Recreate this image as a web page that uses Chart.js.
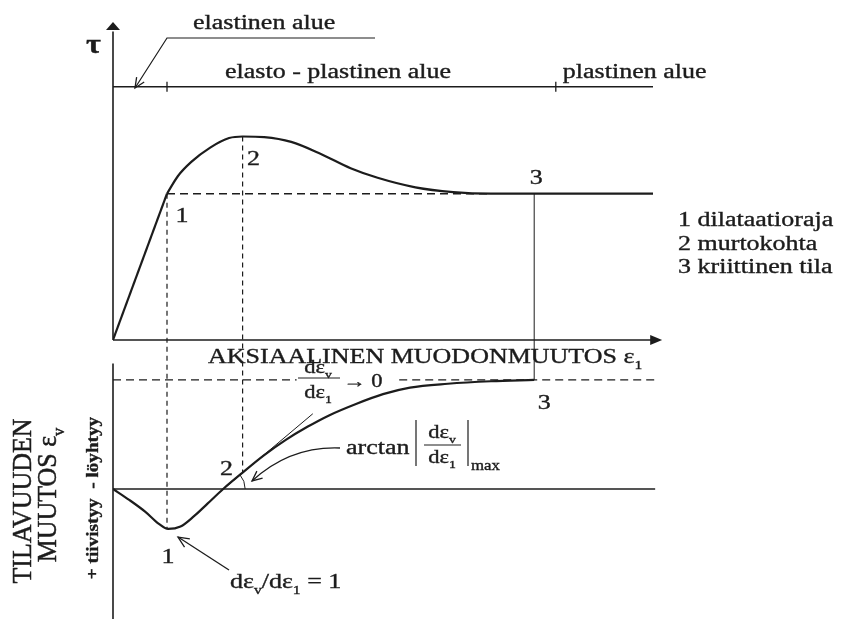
<!DOCTYPE html>
<html>
<head>
<meta charset="utf-8">
<script src="https://cdn.jsdelivr.net/npm/chart.js@4.4.1/dist/chart.umd.min.js"></script>
<style>
  html, body { margin: 0; padding: 0; background: #fff; }
  #wrap { width: 843px; height: 619px; }
</style>
</head>
<body>
<div id="wrap"><canvas id="diagram" width="843" height="619"></canvas></div>
<script>
// tau - eps1 curve: straight elastic part, then the smooth hump
const elasticStrain = [0, 10];
const elasticStress = [0, 46];
const plasticStrain = [10, 12, 14.5, 18, 21.5, 24, 28, 33, 38.5, 44, 49, 56, 63, 70, 78, 100];
const plasticStress = [46, 51.5, 56, 60.5, 63.5, 64, 63.8, 62.3, 58.5, 54, 51, 48, 46.5, 46, 46, 46];

// volume change eps_v against eps1
const volStrainX = [0, 3, 6, 8.5, 10.2, 12.5, 15, 17.5, 20.4, 24, 28, 32, 36, 40, 45, 50, 55, 62, 70, 78];
const volStrainY = [0, -1.0, -2.1, -3.2, -3.67, -3.45, -2.5, -1.35, 0, 1.5, 3.1, 4.5, 5.7, 6.75, 7.8, 8.7, 9.3, 9.65, 9.88, 10];

// steepest tangent of the volume curve
const tangentX = [19.5, 37];
const tangentY = [-0.4, 6.9];

// points 1, 2, 3
const pointStrain = [10, 24, 78];
const pointStress = [46, 64, 46];
const pointVol = [-3.67, 1.5, 10];

// zones on the strip above the plot
const bandTau = 79.6;
const zoneEdges = [10, 82];
const zoneNames = ["elastinen alue", "elasto - plastinen alue", "plastinen alue"];
const legendItems = ["1 dilataatioraja", "2 murtokohta", "3 kriittinen tila"];

const INK = "#1c1c1c";
const SERIF = '"Liberation Serif", "Times New Roman", serif';

const toPts = (xs, ys) => xs.map((v, i) => ({ x: v, y: ys[i] }));

function stroke(ctx, pts, w, dash) {
  ctx.save();
  ctx.strokeStyle = INK;
  ctx.lineWidth = w;
  ctx.setLineDash(dash || []);
  ctx.beginPath();
  ctx.moveTo(pts[0][0], pts[0][1]);
  for (let i = 1; i < pts.length; i++) ctx.lineTo(pts[i][0], pts[i][1]);
  ctx.stroke();
  ctx.restore();
}

function openArrow(ctx, fx, fy, tx, ty, len) {
  const a = Math.atan2(ty - fy, tx - fx);
  stroke(ctx, [
    [tx - len * Math.cos(a - 0.42), ty - len * Math.sin(a - 0.42)],
    [tx, ty],
    [tx - len * Math.cos(a + 0.42), ty - len * Math.sin(a + 0.42)]
  ], 1.3);
}

function solidArrow(ctx, tx, ty, dx, dy, len, half) {
  // dx, dy: unit direction the arrow points to
  ctx.save();
  ctx.fillStyle = INK;
  ctx.beginPath();
  ctx.moveTo(tx, ty);
  ctx.lineTo(tx - dx * len - dy * half, ty - dy * len + dx * half);
  ctx.lineTo(tx - dx * len + dy * half, ty - dy * len - dx * half);
  ctx.closePath();
  ctx.fill();
  ctx.restore();
}

// text runs, plain strings or {s, sub}; drawn stretched sideways like the print
function write(ctx, runs, x, y, o) {
  o = o || {};
  const size = o.size || 20, sx = o.sx || 1.3, weight = o.bold ? "bold " : "";
  const main = weight + size + "px " + SERIF;
  const small = weight + Math.round(size * 0.62) + "px " + SERIF;
  const parts = (typeof runs === "string" ? [runs] : runs).map(r => typeof r === "string" ? { s: r } : r);
  let total = 0;
  parts.forEach(p => { ctx.font = p.sub ? small : main; p.w = ctx.measureText(p.s).width; total += p.w; });
  ctx.save();
  ctx.translate(x, y);
  if (o.rot) ctx.rotate(-Math.PI / 2);
  ctx.scale(sx, 1);
  ctx.fillStyle = INK;
  ctx.strokeStyle = INK;
  ctx.lineWidth = o.heavy || 0.35;
  ctx.textBaseline = "alphabetic";
  ctx.textAlign = "left";
  let cx = o.align === "center" ? -total / 2 : o.align === "right" ? -total : 0;
  parts.forEach(p => {
    ctx.font = p.sub ? small : main;
    const dy = p.sub ? size * 0.28 : 0;
    ctx.fillText(p.s, cx, dy);
    ctx.strokeText(p.s, cx, dy);
    cx += p.w;
  });
  ctx.restore();
}

const inkPlugin = {
  id: "ink",
  beforeDatasetsDraw(chart) {
    const { ctx, scales: { x, yT, yV } } = chart;
    const X = v => x.getPixelForValue(v), T = v => yT.getPixelForValue(v), V = v => yV.getPixelForValue(v);

    // guides from the tau curve down to the volume curve
    stroke(ctx, [[X(pointStrain[0]), T(pointStress[0])], [X(pointStrain[0]), V(pointVol[0])]], 1.2, [5, 4]);
    stroke(ctx, [[X(pointStrain[1]), T(pointStress[1])], [X(pointStrain[1]), V(pointVol[1])]], 1.2, [5, 4]);
    stroke(ctx, [[X(pointStrain[2]), T(pointStress[2])], [X(pointStrain[2]), V(pointVol[2])]], 1);

    // residual strength level and eps_v asymptote
    stroke(ctx, [[X(pointStrain[0]), T(pointStress[0])], [X(70), T(pointStress[0])]], 1.4, [8, 5]);
    stroke(ctx, [[X(0), V(10)], [X(34), V(10)]], 1.3, [8, 5]);
    stroke(ctx, [[X(53), V(10)], [X(100.4), V(10)]], 1.3, [8, 5]);

    // lower plot zero line and angle mark
    stroke(ctx, [[X(0), V(0)], [X(100.4), V(0)]], 1.5);
    ctx.save();
    ctx.strokeStyle = INK;
    ctx.lineWidth = 1;
    ctx.beginPath();
    ctx.arc(X(20.4), V(0), 22, -0.71, 0);
    ctx.stroke();
    ctx.restore();
  },
  afterDatasetsDraw(chart) {
    const { ctx, scales: { x, yT, yV } } = chart;
    const X = v => x.getPixelForValue(v), T = v => yT.getPixelForValue(v), V = v => yV.getPixelForValue(v);
    const x0 = X(0);

    // upper axes with arrows
    stroke(ctx, [[x0, T(0)], [x0, T(97)]], 1.6);
    solidArrow(ctx, x0, T(100), 0, -1, 8, 7);
    stroke(ctx, [[x0, T(0)], [X(100), T(0)]], 1.6);
    solidArrow(ctx, X(101.7), T(0), 1, 0, 12, 5);

    // lower axis
    stroke(ctx, [[x0, V(11.5)], [x0, V(-11.93)]], 1.6);

    // zone strip
    stroke(ctx, [[x0, T(bandTau)], [X(100), T(bandTau)]], 1.5);
    zoneEdges.forEach(e => stroke(ctx, [[X(e), T(bandTau) - 5], [X(e), T(bandTau) + 5]], 1.3));
    write(ctx, zoneNames[0], 193, 29);
    write(ctx, zoneNames[1], 225, 78);
    write(ctx, zoneNames[2], X(zoneEdges[1]) + 7, 78);
    stroke(ctx, [[375, 38], [167, 38], [135, 88]], 1.2);
    openArrow(ctx, 167, 38, 135, 88, 11);

    write(ctx, "\u03c4", 86, 53, { size: 28, sx: 1.15, bold: true });

    // point numbers
    write(ctx, "1", X(pointStrain[0]) + 15, T(pointStress[0]) + 28, { align: "center" });
    write(ctx, "2", X(pointStrain[1]) + 11, T(pointStress[1]) + 29, { align: "center" });
    write(ctx, "3", X(pointStrain[2]) + 2, T(pointStress[2]) - 10, { align: "center" });
    write(ctx, "2", X(pointStrain[1]) - 16, V(pointVol[1]) + 2, { align: "center" });
    write(ctx, "1", X(pointStrain[0]) + 1, V(pointVol[0]) + 34, { align: "center" });
    write(ctx, "3", X(pointStrain[2]) + 10, V(pointVol[2]) + 29, { align: "center" });

    legendItems.forEach((t, i) => write(ctx, t, 678, 226 + i * 23.5));

    write(ctx, ["AKSIAALINEN MUODONMUUTOS \u03b5", { s: "1", sub: true }], 208, 363);

    // d eps_v / d eps_1 -> 0
    write(ctx, ["d\u03b5", { s: "v", sub: true }], 318, 373, { size: 18, sx: 1.25, align: "center" });
    stroke(ctx, [[298, 378], [340, 378]], 1);
    write(ctx, ["d\u03b5", { s: "1", sub: true }], 318, 398, { size: 18, sx: 1.25, align: "center" });
    write(ctx, "\u2192 0", 343, 387, { size: 18, sx: 1.25 });

    // arctan |d eps_v / d eps_1|max
    write(ctx, "arctan", 346, 454);
    stroke(ctx, [[416, 420], [416, 466]], 1.2);
    stroke(ctx, [[468, 420], [468, 466]], 1.2);
    write(ctx, ["d\u03b5", { s: "v", sub: true }], 442, 438, { size: 18, sx: 1.25, align: "center" });
    stroke(ctx, [[424, 445], [461, 445]], 1);
    write(ctx, ["d\u03b5", { s: "1", sub: true }], 442, 463, { size: 18, sx: 1.25, align: "center" });
    write(ctx, "max", 471, 470, { size: 14, sx: 1.2 });
    ctx.save();
    ctx.strokeStyle = INK;
    ctx.lineWidth = 1.3;
    ctx.beginPath();
    ctx.moveTo(340, 448);
    ctx.quadraticCurveTo(290, 446, 252, 481);
    ctx.stroke();
    ctx.restore();
    openArrow(ctx, 275, 462, 252, 481, 11);

    // d eps_v / d eps_1 = 1
    write(ctx, ["d\u03b5", { s: "v", sub: true }, "/d\u03b5", { s: "1", sub: true }, " = 1"], 230, 588);
    stroke(ctx, [[229, 570], [178, 537]], 1.3);
    openArrow(ctx, 229, 570, 178, 537, 12);

    // vertical titles of the lower plot
    write(ctx, "TILAVUUDEN", 31, 501, { size: 27, sx: 0.96, rot: true, align: "center", heavy: 0.5 });
    write(ctx, ["MUUTOS \u03b5", { s: "v", sub: true }], 56, 495, { size: 27, sx: 0.96, rot: true, align: "center", heavy: 0.5 });
    write(ctx, "+ tiivistyy  - l\u00f6yhtyy", 98, 498, { size: 16, sx: 1.2, rot: true, bold: true, align: "center" });
  }
};

const lineStyle = { borderColor: INK, pointRadius: 0, fill: false };

new Chart(document.getElementById("diagram"), {
  type: "line",
  data: {
    datasets: [
      { ...lineStyle, data: toPts(elasticStrain, elasticStress), yAxisID: "yT", borderWidth: 2.2, tension: 0 },
      { ...lineStyle, data: toPts(plasticStrain, plasticStress), yAxisID: "yT", borderWidth: 2.2, cubicInterpolationMode: "monotone" },
      { ...lineStyle, data: toPts(volStrainX, volStrainY), yAxisID: "yV", borderWidth: 2.2, cubicInterpolationMode: "monotone" },
      { ...lineStyle, data: toPts(tangentX, tangentY), yAxisID: "yV", borderWidth: 1, tension: 0 }
    ]
  },
  options: {
    responsive: false,
    devicePixelRatio: 1,
    animation: false,
    layout: { padding: { left: 113, right: 190, top: 22, bottom: 0 } },
    plugins: { legend: { display: false }, tooltip: { enabled: false } },
    scales: {
      x: { type: "linear", min: 0, max: 100, display: false },
      y: { display: false },
      yT: { type: "linear", min: -87.74, max: 100, display: false },
      yV: { type: "linear", min: -11.93, max: 42.84, display: false }
    }
  },
  plugins: [inkPlugin]
});
</script>
</body>
</html>
